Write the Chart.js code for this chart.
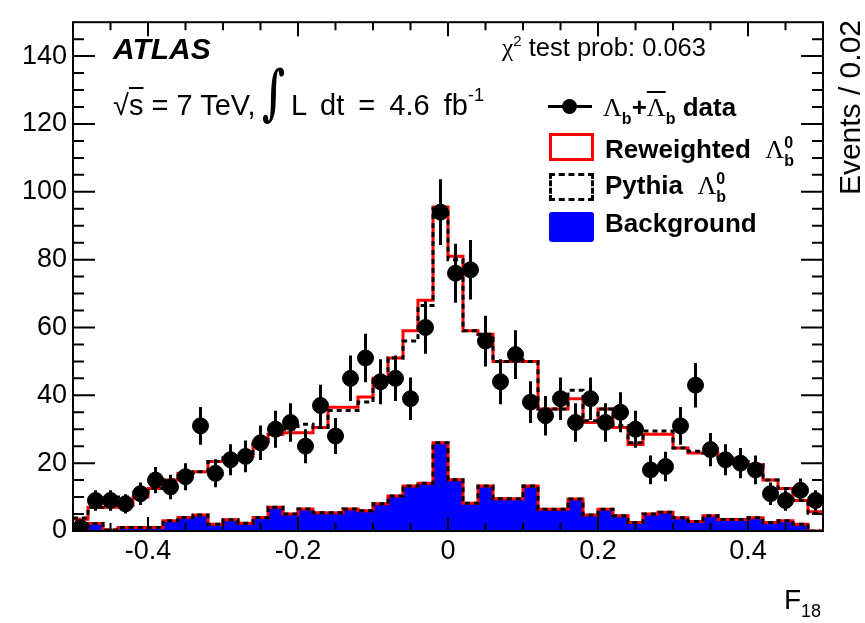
<!DOCTYPE html>
<html>
<head>
<meta charset="utf-8">
<script src="https://cdn.jsdelivr.net/npm/chart.js@4.4.1/dist/chart.umd.min.js"></script>
<style>
  body { margin: 0; background: #fff; }
  #wrap { position: relative; width: 865px; height: 623px; font-family: "Liberation Sans", Arial, sans-serif; color: #000; }
  #chart { position: absolute; left: 0; top: 0; }
  .t { position: absolute; white-space: nowrap; line-height: 1; }
  .gr { font-family: "Liberation Serif", serif; font-weight: normal; }
  .stk { display: inline-block; font-size: 16px; line-height: 18px; vertical-align: -8px; }
  .sb { font-size: 16px; vertical-align: -8px; line-height: 0; }
  .sp { font-size: 15px; vertical-align: 10px; line-height: 0; }
  .box { position: absolute; box-sizing: border-box; }
</style>
</head>
<body>
<div id="wrap">
  <canvas id="chart" width="865" height="623"></canvas>

  <div class="t" style="left:113px;top:34px;font-size:30px;font-weight:bold;font-style:italic;">ATLAS</div>
  <div class="t" style="left:502px;top:35px;font-size:25.5px;"><span class="gr">χ</span><span class="sp">2</span> test prob: 0.063</div>
  <div class="t" style="left:113px;top:91px;font-size:29px;">√<span style="text-decoration:overline">s</span> = 7 TeV,</div>
  <div class="t" style="left:262px;top:62px;font-size:40px;font-family:'DejaVu Serif',serif;font-weight:bold;transform:scaleY(1.5);transform-origin:0 0;">∫</div>
  <div class="t" style="left:291px;top:91px;font-size:29px;word-spacing:6px;">L dt = 4.6 fb<span class="sp" style="font-size:18px;vertical-align:14px;">-1</span></div>

  <!-- legend -->
  <div class="box" style="left:548px;top:105px;width:44px;height:3px;background:#000;"></div>
  <div class="box" style="left:562px;top:99px;width:15px;height:15px;border-radius:50%;background:#000;"></div>
  <div class="t" style="left:603px;top:94px;font-size:26px;font-weight:bold;"><span class="gr">Λ</span><span class="sb">b</span>+<span class="gr" style="text-decoration:overline;">Λ</span><span class="sb">b</span> data</div>

  <div class="box" style="left:549px;top:133px;width:45px;height:28px;border:3px solid #ff0000;"></div>
  <div class="t" style="left:605px;top:134px;font-size:26px;font-weight:bold;">Reweighted&nbsp; <span class="gr">Λ</span><span class="stk">0<br>b</span></div>

  <div class="box" style="left:549px;top:173px;width:45px;height:28px;border:3px dashed #000;"></div>
  <div class="t" style="left:605px;top:170px;font-size:26px;font-weight:bold;">Pythia&nbsp; <span class="gr">Λ</span><span class="stk">0<br>b</span></div>

  <div class="box" style="left:549px;top:212px;width:45px;height:30px;background:#0000ff;border-radius:3px;"></div>
  <div class="t" style="left:605px;top:210px;font-size:26px;font-weight:bold;">Background</div>

  <!-- axis titles -->
  <div class="t" style="left:835px;top:220px;width:200px;text-align:right;font-size:30px;transform-origin:0 0;transform:rotate(-90deg);">Events / 0.02</div>
  <div class="t" style="left:784px;top:586px;font-size:28px;">F<span style="font-size:18px;vertical-align:-8px;line-height:0;">18</span></div>
</div>

<script>
// bin edges of F18 (50 bins of width 0.02)
const binEdges = [-0.50, -0.48, -0.46, -0.44, -0.42, -0.40, -0.38, -0.36, -0.34, -0.32,
  -0.30, -0.28, -0.26, -0.24, -0.22, -0.20, -0.18, -0.16, -0.14, -0.12,
  -0.10, -0.08, -0.06, -0.04, -0.02, 0.00, 0.02, 0.04, 0.06, 0.08,
  0.10, 0.12, 0.14, 0.16, 0.18, 0.20, 0.22, 0.24, 0.26, 0.28,
  0.30, 0.32, 0.34, 0.36, 0.38, 0.40, 0.42, 0.44, 0.46, 0.48, 0.50];

// Lambda_b + anti-Lambda_b data (events per bin)
const dataCounts = [1, 9, 9, 8, 11, 15, 13, 16, 31, 17,
  21, 22, 26, 30, 32, 25, 37, 28, 45, 51,
  44, 45, 39, 60, 94, 76, 77, 56, 44, 52,
  38, 34, 39, 32, 39, 32, 35, 30, 18, 19,
  31, 43, 24, 21, 20, 18, 11, 9, 12, 9];

// Reweighted Lambda_b0 MC (signal + background)
const reweightedTotal = [3.5, 7, 7, 7.5, 10, 12.5, 15, 17, 17.5, 20.5,
  21.5, 22, 26, 28.5, 29, 29, 30.5, 36.5, 36.5, 39.5,
  45, 51, 59, 68, 95.5, 81, 59, 58, 50, 50,
  50, 36, 36, 39, 32, 36, 30.5, 25.5, 28.5, 28.5,
  24.5, 23, 23, 21.5, 20.5, 19.5, 15, 12.5, 9, 5.7];

// Pythia Lambda_b0 MC (signal + background)
const pythiaTotal = [3.8, 7, 10, 10, 10, 12.5, 15, 17, 17.5, 20.5,
  21.5, 22, 25.5, 28.5, 30, 31.5, 30.5, 35.5, 35.5, 38,
  45, 51, 56, 66.5, 95, 80, 59, 58, 50, 50.5,
  50, 36, 36, 41.5, 32.5, 36, 31, 26, 29.5, 29.5,
  24.5, 23.5, 23, 21.5, 20.5, 19.5, 15, 12.5, 9, 5.2];

// Background
const backgroundMC = [0, 2.2, 0.3, 1, 1, 1, 3, 4, 4.7, 2,
  3.3, 2.3, 4, 7, 5, 6.5, 5.4, 5.4, 6.5, 6,
  8, 10.3, 13.3, 14.1, 26, 15.1, 8.2, 13.3, 9.5, 9.5,
  13.3, 6.4, 6.4, 9.4, 4.7, 6.4, 4.5, 2.5, 5, 5.5,
  3.9, 2.8, 4.5, 3.4, 3.4, 3.9, 2.5, 3, 2, 0];

const xTickValues = [-0.4, -0.2, 0, 0.2, 0.4];
const xTickLabels = ['-0.4', '-0.2', '0', '0.2', '0.4'];
const yTickValues = [0, 20, 40, 60, 80, 100, 120, 140];
const yTickLabels = ['0', '20', '40', '60', '80', '100', '120', '140'];

// step histogram: value i holds from binEdges[i] to binEdges[i+1]
function histPoints(values) {
  var pts = values.map(function(v, i) { return { x: binEdges[i], y: v }; });
  pts.push({ x: binEdges[values.length], y: values[values.length - 1] });
  return pts;
}

var dataPoints = dataCounts.map(function(v, i) {
  return { x: (binEdges[i] + binEdges[i + 1]) / 2, y: v };
});

// vertical sqrt(N) error bars on the data
var errorBars = {
  id: 'errorBars',
  beforeDatasetDraw: function(chart, args) {
    if (args.index !== 0) return;
    var ctx = chart.ctx, xs = chart.scales.x, ys = chart.scales.y;
    ctx.save();
    ctx.strokeStyle = '#000';
    ctx.lineWidth = 3;
    ctx.beginPath();
    dataPoints.forEach(function(p) {
      var e = Math.sqrt(p.y);
      var px = xs.getPixelForValue(p.x);
      ctx.moveTo(px, ys.getPixelForValue(Math.max(p.y - e, 0)));
      ctx.lineTo(px, ys.getPixelForValue(p.y + e));
    });
    ctx.stroke();
    ctx.restore();
  }
};

// ROOT-like frame with inward ticks on all four sides
var frameTicks = {
  id: 'frameTicks',
  afterDraw: function(chart) {
    var ctx = chart.ctx, a = chart.chartArea, xs = chart.scales.x, ys = chart.scales.y;
    ctx.save();
    ctx.strokeStyle = '#000';
    ctx.lineWidth = 2;
    ctx.beginPath();
    for (var k = -9; k <= 9; k++) {
      var px = xs.getPixelForValue(k * 0.05);
      var len = (k % 4 === 0) ? 14 : 8;
      ctx.moveTo(px, a.bottom); ctx.lineTo(px, a.bottom - len);
      ctx.moveTo(px, a.top); ctx.lineTo(px, a.top + len);
    }
    for (var j = 1; j <= 29; j++) {
      var py = ys.getPixelForValue(j * 5);
      var l2 = (j % 4 === 0) ? 22 : 11;
      ctx.moveTo(a.left, py); ctx.lineTo(a.left + l2, py);
      ctx.moveTo(a.right, py); ctx.lineTo(a.right - l2, py);
    }
    ctx.stroke();
    ctx.strokeRect(a.left, a.top, a.right - a.left, a.bottom - a.top);
    ctx.restore();
  }
};

var tickFont = { family: 'Liberation Sans', size: 27 };

new Chart(document.getElementById('chart'), {
  type: 'line',
  data: {
    datasets: [{
      label: 'data',
      data: dataPoints,
      showLine: false,
      pointRadius: 8,
      pointBackgroundColor: '#000',
      pointBorderColor: '#000',
      order: 0
    }, {
      label: 'Pythia',
      data: histPoints(pythiaTotal),
      stepped: 'before',
      borderColor: '#000',
      borderWidth: 3,
      borderDash: [5, 4],
      pointRadius: 0,
      fill: false,
      order: 1
    }, {
      label: 'Reweighted',
      data: histPoints(reweightedTotal),
      stepped: 'before',
      borderColor: '#ff0000',
      borderWidth: 3,
      pointRadius: 0,
      fill: false,
      order: 2
    }, {
      label: 'Background outline',
      data: histPoints(backgroundMC),
      stepped: 'before',
      borderColor: '#000',
      borderWidth: 3,
      borderDash: [5, 4],
      pointRadius: 0,
      fill: false,
      order: 3
    }, {
      label: 'Background',
      data: histPoints(backgroundMC),
      stepped: 'before',
      borderColor: '#ff0000',
      borderWidth: 3,
      backgroundColor: '#0000ff',
      pointRadius: 0,
      fill: 'origin',
      order: 4
    }]
  },
  options: {
    responsive: false,
    animation: false,
    devicePixelRatio: 1,
    layout: { padding: { left: 0, right: 42, top: 22, bottom: 0 } },
    plugins: {
      legend: { display: false },
      tooltip: { enabled: false }
    },
    scales: {
      x: {
        type: 'linear',
        min: -0.5,
        max: 0.5,
        grid: { display: false, drawTicks: false },
        border: { display: false },
        afterBuildTicks: function(s) { s.ticks = xTickValues.map(function(v) { return { value: v }; }); },
        afterFit: function(s) { s.height = 92; },
        ticks: {
          font: tickFont,
          color: '#000',
          padding: 4,
          maxRotation: 0,
          autoSkip: false,
          callback: function(v) { return xTickLabels[xTickValues.indexOf(v)]; }
        }
      },
      y: {
        min: 0,
        max: 150,
        grid: { display: false, drawTicks: false },
        border: { display: false },
        afterBuildTicks: function(s) { s.ticks = yTickValues.map(function(v) { return { value: v }; }); },
        afterFit: function(s) { s.width = 73; },
        ticks: {
          font: tickFont,
          color: '#000',
          padding: 6,
          autoSkip: false,
          callback: function(v) { return yTickLabels[yTickValues.indexOf(v)]; }
        }
      }
    }
  },
  plugins: [errorBars, frameTicks]
});
</script>
</body>
</html>
